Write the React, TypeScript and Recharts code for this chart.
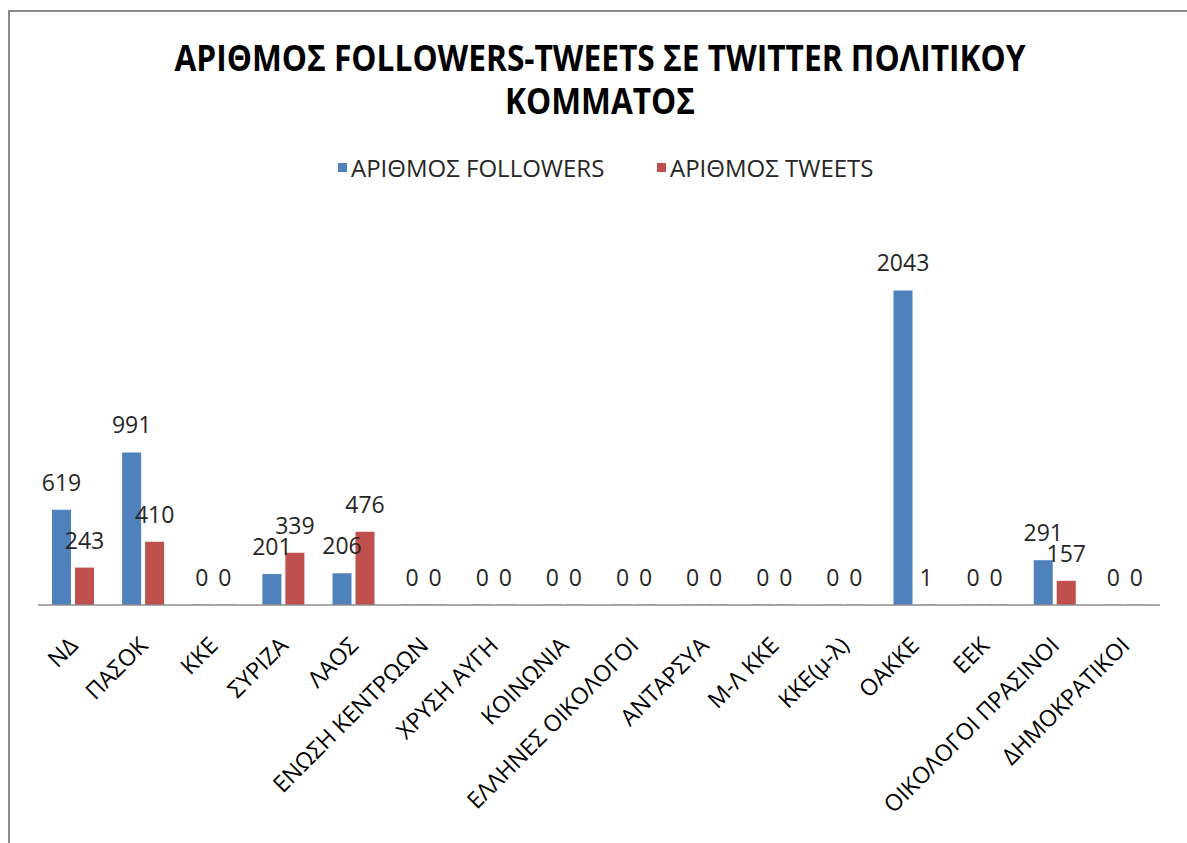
import React from 'react';
import { BarChart, Bar, XAxis, YAxis, LabelList } from 'recharts';

const categories = [
  'ΝΔ', 'ΠΑΣΟΚ', 'ΚΚΕ', 'ΣΥΡΙΖΑ', 'ΛΑΟΣ', 'ΕΝΩΣΗ ΚΕΝΤΡΩΩΝ', 'ΧΡΥΣΗ ΑΥΓΗ', 'ΚΟΙΝΩΝΙΑ',
  'ΕΛΛΗΝΕΣ ΟΙΚΟΛΟΓΟΙ', 'ΑΝΤΑΡΣΥΑ', 'Μ-Λ ΚΚΕ', 'ΚΚΕ(μ-λ)', 'ΟΑΚΚΕ', 'ΕΕΚ',
  'ΟΙΚΟΛΟΓΟΙ ΠΡΑΣΙΝΟΙ', 'ΔΗΜΟΚΡΑΤΙΚΟΙ',
];
const followers = [619, 991, 0, 201, 206, 0, 0, 0, 0, 0, 0, 0, 2043, 0, 291, 0];
const tweets = [243, 410, 0, 339, 476, 0, 0, 0, 0, 0, 0, 0, 1, 0, 157, 0];
const seriesNames = ['ΑΡΙΘΜΟΣ FOLLOWERS', 'ΑΡΙΘΜΟΣ TWEETS'];
const seriesColors = ['#4F81BD', '#C0504D'];
const titleLines = ['ΑΡΙΘΜΟΣ FOLLOWERS-TWEETS ΣΕ TWITTER ΠΟΛΙΤΙΚΟΥ', 'ΚΟΜΜΑΤΟΣ'];

const data = categories.map((name, i) => ({ name, followers: followers[i], tweets: tweets[i] }));

const FONT = '"Open Sans", "DejaVu Sans", sans-serif';

const Tick = (props: any) => {
  const { x, y, payload } = props;
  const ax = x + 6;
  const ay = y + 42;
  return (
    <text
      x={ax}
      y={ay}
      transform={`rotate(-45, ${ax}, ${ay})`}
      textAnchor="end"
      fontFamily={FONT}
      fontSize={23}
      fill="#000"
    >
      {payload.value}
    </text>
  );
};

export default function App() {
  return (
    <div style={{ position: 'absolute', left: 0, top: 0, width: 1187, height: 843, overflow: 'hidden', background: '#fff' }}>
      <div
        style={{
          position: 'absolute', left: 8, top: 10, width: 1300, height: 1000,
          borderLeft: '2.5px solid #8a8a8a', borderTop: '2.5px solid #8a8a8a', boxSizing: 'border-box',
        }}
      />
      <div
        style={{
          position: 'absolute', left: 0, width: 1200, top: 35.5,
          textAlign: 'center', fontFamily: FONT, fontWeight: 700, fontSize: 36, lineHeight: '43px',
          color: '#000', transform: 'scaleX(0.88)', transformOrigin: '600px 0', whiteSpace: 'nowrap',
        }}
      >
        {titleLines[0]}
        <br />
        {titleLines[1]}
      </div>
      {seriesNames.map((n, i) => (
        <div
          key={n}
          style={{
            position: 'absolute', left: i === 0 ? 338 : 657, top: 150, height: 34,
            display: 'flex', alignItems: 'center', fontFamily: FONT, fontSize: 24, color: '#262626',
            whiteSpace: 'nowrap',
          }}
        >
          <span style={{ display: 'inline-block', width: 9, height: 9, background: seriesColors[i], marginRight: 4 }} />
          <span>{n}</span>
        </div>
      ))}
      <div style={{ position: 'absolute', left: 0, top: 0 }}>
        <BarChart
          width={1187}
          height={843}
          data={data}
          margin={{ top: 220, right: 27, left: 38, bottom: 38 }}
          barSize={19}
          barGap={4}
        >
          <XAxis
            dataKey="name"
            interval={0}
            height={200}
            tickLine={false}
            tickSize={0}
            tickMargin={0}
            axisLine={{ stroke: '#8c8c8c', strokeWidth: 1.5 }}
            tick={<Tick />}
          />
          <YAxis hide width={0} domain={[0, 2500]} />
          <Bar dataKey="followers" name={seriesNames[0]} fill={seriesColors[0]} minPointSize={0.4} isAnimationActive={false}>
            <LabelList dataKey="followers" position="top" offset={19} fill="#262626" fontSize={23} fontFamily={FONT} />
          </Bar>
          <Bar dataKey="tweets" name={seriesNames[1]} fill={seriesColors[1]} minPointSize={0.4} isAnimationActive={false}>
            <LabelList dataKey="tweets" position="top" offset={19} fill="#262626" fontSize={23} fontFamily={FONT} />
          </Bar>
        </BarChart>
      </div>
    </div>
  );
}
